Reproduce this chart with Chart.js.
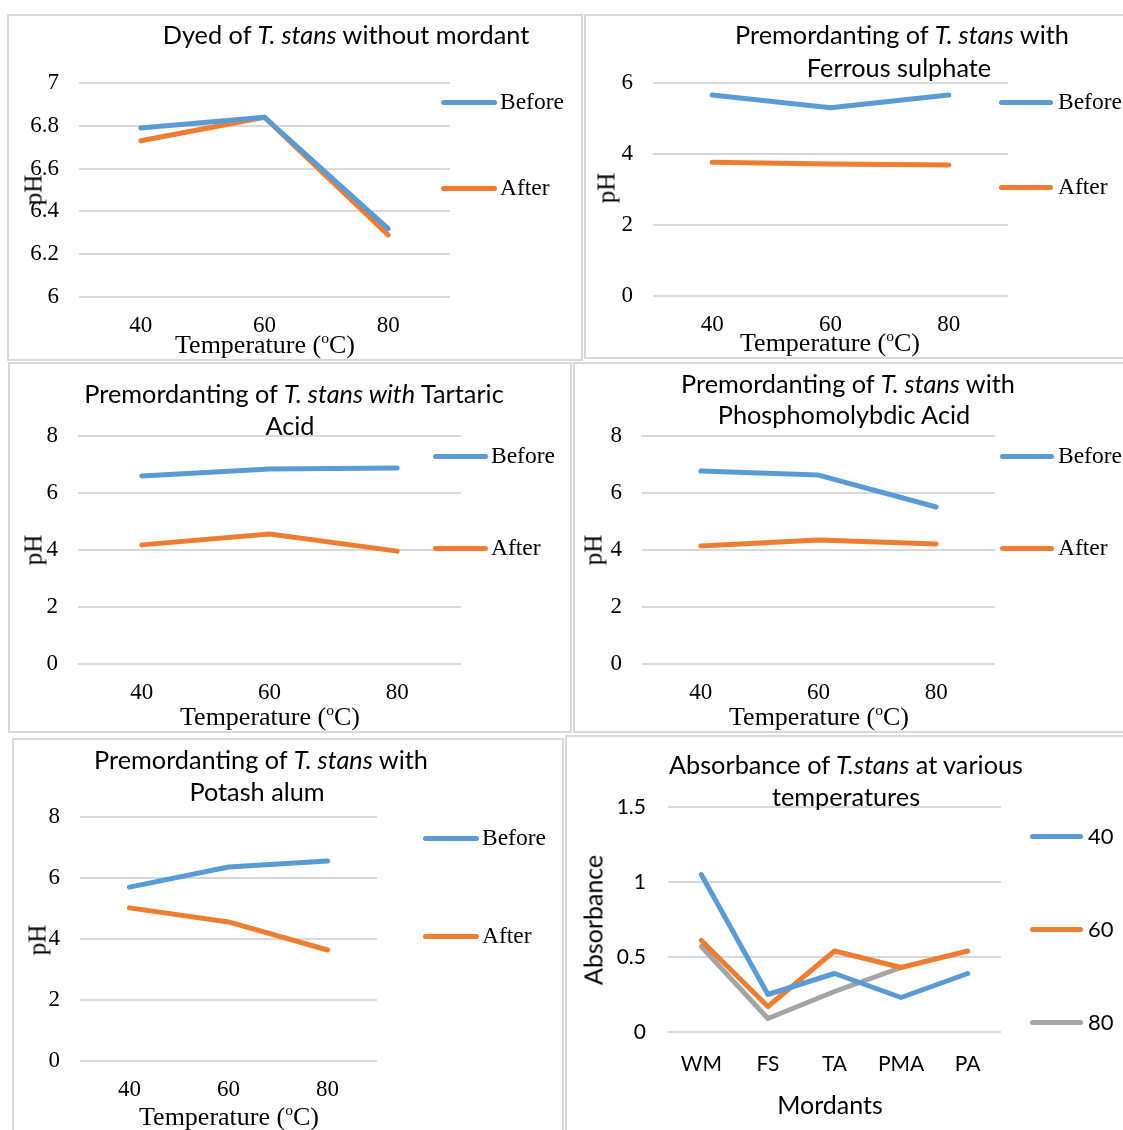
<!DOCTYPE html>
<html>
<head>
<meta charset="utf-8">
<script src="https://cdn.jsdelivr.net/npm/chart.js@4.4.1/dist/chart.umd.min.js"></script>
<style>
  body { margin: 0; background: #fff; width: 1123px; height: 1130px; position: relative; overflow: hidden; }
  .frame { position: absolute; border: 2px solid #d9d9d9; box-sizing: border-box; }
  canvas { position: absolute; }
  .txt { position: absolute; white-space: nowrap; color: #000; line-height: 1; }
  .key { position: absolute; height: 5px; border-radius: 3px; }
</style>
</head>
<body>
<script>
// pH before / after dyeing, by temperature
const temps = ['40', '60', '80'];

const noMordantBefore = [6.79, 6.84, 6.32];
const noMordantAfter = [6.73, 6.84, 6.29];
const noMordantTicks = [6, 6.2, 6.4, 6.6, 6.8, 7];

const ferrousBefore = [5.66, 5.30, 5.66];
const ferrousAfter = [3.77, 3.72, 3.69];
const ferrousTicks = [0, 2, 4, 6];

const tartaricBefore = [6.60, 6.84, 6.88];
const tartaricAfter = [4.18, 4.56, 3.96];

const pmaBefore = [6.77, 6.63, 5.51];
const pmaAfter = [4.14, 4.35, 4.21];

const alumBefore = [5.70, 6.36, 6.56];
const alumAfter = [5.02, 4.56, 3.64];

const phTicks = [0, 2, 4, 6, 8];

// absorbance by mordant
const mordants = ['WM', 'FS', 'TA', 'PMA', 'PA'];
const abs40 = [1.05, 0.25, 0.39, 0.23, 0.39];
const abs60 = [0.61, 0.17, 0.54, 0.43, 0.54];
const abs80 = [0.57, 0.09, 0.27, 0.43, null];
const absTicks = [0, 0.5, 1, 1.5];

const BLUE = '#5b9bd5', ORANGE = '#ed7d31', GRAY = '#a5a5a5';
const SERIF = '"Liberation Serif", "Times New Roman", serif';
const SANS = 'Lato, "Open Sans", sans-serif';
const TEMP_TITLE = 'Temperature (<span style="font-size:0.6em;vertical-align:0.6em">o</span>C)';

const panels = [
  {
    frame: { left: 7, top: 14, right: 583, bottom: 361 },
    plot: { left: 79, top: 83, right: 450, bottom: 297 },
    labels: temps, ticks: noMordantTicks, serif: true,
    series: [['Before', noMordantBefore, BLUE], ['After', noMordantAfter, ORANGE]],
    title: [['Dyed of <i>T. stans</i> without mordant', 346, 35]],
    legend: { x1: 441, x2: 497, tx: 500, ys: [102, 188] },
    yTitle: ['pH', 33, 190], xTitle: [TEMP_TITLE, 265, 344]
  },
  {
    frame: { left: 584, top: 14, right: 1130, bottom: 359 },
    plot: { left: 653, top: 83, right: 1008, bottom: 296 },
    labels: temps, ticks: ferrousTicks, serif: true,
    series: [['Before', ferrousBefore, BLUE], ['After', ferrousAfter, ORANGE]],
    title: [['Premordanting of <i>T. stans</i> with', 902, 35], ['Ferrous sulphate', 899, 68]],
    legend: { x1: 999, x2: 1053, tx: 1058, ys: [102, 187] },
    yTitle: ['pH', 606, 188], xTitle: [TEMP_TITLE, 830, 342]
  },
  {
    frame: { left: 8, top: 362, right: 572, bottom: 733 },
    plot: { left: 78, top: 436, right: 461, bottom: 664 },
    labels: temps, ticks: phTicks, serif: true,
    series: [['Before', tartaricBefore, BLUE], ['After', tartaricAfter, ORANGE]],
    title: [['Premordanting of <i>T. stans with</i> Tartaric', 294, 394], ['Acid', 290, 426]],
    legend: { x1: 433, x2: 488, tx: 491, ys: [456, 548] },
    yTitle: ['pH', 33, 550], xTitle: [TEMP_TITLE, 270, 716]
  },
  {
    frame: { left: 573, top: 362, right: 1130, bottom: 733 },
    plot: { left: 642, top: 436, right: 995, bottom: 664 },
    labels: temps, ticks: phTicks, serif: true,
    series: [['Before', pmaBefore, BLUE], ['After', pmaAfter, ORANGE]],
    title: [['Premordanting of <i>T. stans</i> with', 848, 384], ['Phosphomolybdic Acid', 844, 415]],
    legend: { x1: 1000, x2: 1054, tx: 1058, ys: [456, 548] },
    yTitle: ['pH', 593, 550], xTitle: [TEMP_TITLE, 819, 716]
  },
  {
    frame: { left: 12, top: 738, right: 564, bottom: 1135 },
    plot: { left: 80, top: 817, right: 377, bottom: 1061 },
    labels: temps, ticks: phTicks, serif: true,
    series: [['Before', alumBefore, BLUE], ['After', alumAfter, ORANGE]],
    title: [['Premordanting of <i>T. stans</i> with', 261, 760], ['Potash alum', 257, 792]],
    legend: { x1: 423, x2: 479, tx: 482, ys: [838, 936] },
    yTitle: ['pH', 37, 940], xTitle: [TEMP_TITLE, 229, 1116]
  },
  {
    frame: { left: 565, top: 735, right: 1130, bottom: 1135 },
    plot: { left: 668, top: 807, right: 1001, bottom: 1032 },
    labels: mordants, ticks: absTicks, serif: false,
    series: [['40', abs40, BLUE], ['60', abs60, ORANGE], ['80', abs80, GRAY]],
    title: [['Absorbance of <i>T.stans</i> at various', 846, 765], ['temperatures', 846, 797]],
    legend: { x1: 1030, x2: 1083, tx: 1088, ys: [836, 929, 1022] },
    yTitle: ['Absorbance', 593, 920], xTitle: ['Mordants', 830, 1104]
  }
];

function addText(html, x, y, font, size, mode) {
  const d = document.createElement('div');
  d.className = 'txt';
  d.innerHTML = html;
  d.style.fontFamily = font;
  d.style.fontSize = size + 'px';
  d.style.left = x + 'px';
  d.style.top = y + 'px';
  if (mode === 'left') d.style.transform = 'translate(0,-50%)';
  else if (mode === 'rot') d.style.transform = 'translate(-50%,-50%) rotate(-90deg)';
  else d.style.transform = 'translate(-50%,-50%)';
  document.body.appendChild(d);
  return d;
}

// size the title font so the common title line matches the reference width
function titleSize() {
  const probe = addText('Premordanting of <i>T. stans</i> with', -999, -999, SANS, 100);
  const w = probe.getBoundingClientRect().width;
  probe.remove();
  return 100 * 334 / w;
}

function drawPanel(p, tSize) {
  const f = p.frame;
  const fr = document.createElement('div');
  fr.className = 'frame';
  Object.assign(fr.style, { left: f.left + 'px', top: f.top + 'px', width: (f.right - f.left) + 'px', height: (f.bottom - f.top) + 'px' });
  document.body.appendChild(fr);

  const c = document.createElement('canvas');
  c.width = f.right - f.left;
  c.height = f.bottom - f.top;
  c.style.left = f.left + 'px';
  c.style.top = f.top + 'px';
  document.body.appendChild(c);

  const tickFont = p.serif ? { family: SERIF, size: 23 } : { family: SANS, size: 21 };

  new Chart(c, {
    type: 'line',
    data: {
      labels: p.labels,
      datasets: p.series.map(([name, data, color]) => ({
        label: name, data, borderColor: color, borderWidth: 5,
        pointRadius: 0, tension: 0, fill: false,
        borderCapStyle: 'round', borderJoinStyle: 'round'
      }))
    },
    options: {
      responsive: false,
      animation: false,
      devicePixelRatio: 1,
      layout: { padding: { top: p.plot.top - f.top, right: f.right - p.plot.right, left: 0, bottom: 0 } },
      plugins: { legend: { display: false }, title: { display: false }, tooltip: { enabled: false } },
      scales: {
        x: {
          offset: true,
          grid: { display: false, drawTicks: false },
          border: { display: false },
          ticks: { font: tickFont, color: '#000', padding: p.serif ? 15 : 20, maxRotation: 0, autoSkip: false },
          afterFit: s => { s.height = f.bottom - p.plot.bottom; }
        },
        y: {
          min: p.ticks[0], max: p.ticks[p.ticks.length - 1],
          grid: { color: '#d9d9d9', lineWidth: 2, drawTicks: false },
          border: { display: false },
          ticks: { font: tickFont, color: '#000', padding: p.serif ? 20 : 22, callback: v => String(v) },
          afterBuildTicks: s => { s.ticks = p.ticks.map(v => ({ value: v })); },
          afterFit: s => { s.width = p.plot.left - f.left; }
        }
      }
    }
  });

  p.title.forEach(([html, x, y]) => addText(html, x, y, SANS, tSize));

  const lg = p.legend;
  p.series.forEach(([name, , color], i) => {
    const k = document.createElement('div');
    k.className = 'key';
    Object.assign(k.style, { left: lg.x1 + 'px', top: (lg.ys[i] - 2.5) + 'px', width: (lg.x2 - lg.x1) + 'px', background: color });
    document.body.appendChild(k);
    addText(name, lg.tx, lg.ys[i], p.serif ? SERIF : SANS, p.serif ? 23.5 : 22, 'left');
  });

  addText(p.yTitle[0], p.yTitle[1], p.yTitle[2], p.serif ? SERIF : SANS, p.serif ? 25 : 25, 'rot');
  addText(p.xTitle[0], p.xTitle[1], p.xTitle[2], p.serif ? SERIF : SANS, p.serif ? 26 : 25);
}

const tSize = titleSize();
panels.forEach(p => drawPanel(p, tSize));
</script>
</body>
</html>
